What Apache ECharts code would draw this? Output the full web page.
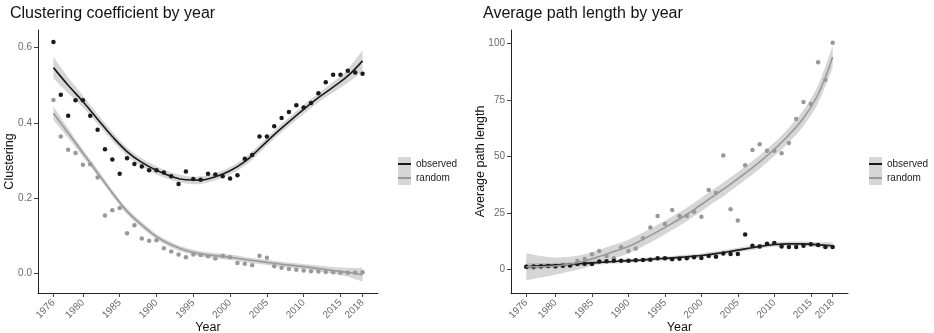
<!DOCTYPE html>
<html><head><meta charset="utf-8">
<script src="https://cdn.jsdelivr.net/npm/echarts@6/dist/echarts.min.js"></script>
<style>html,body{margin:0;padding:0;background:#fff}#c{width:934px;height:333px}</style>
</head><body><div id="c"></div>
<script>
// ---- data ----
const years = [1976,1977,1978,1979,1980,1981,1982,1983,1984,1985,1986,1987,1988,1989,1990,1991,1992,1993,1994,1995,1996,1997,1998,1999,2000,2001,2002,2003,2004,2005,2006,2007,2008,2009,2010,2011,2012,2013,2014,2015,2016,2017,2018];
const tickYears = [1976,1980,1985,1990,1995,2000,2005,2010,2015,2018];

const clusterObserved = [0.615,0.475,0.419,0.460,0.460,0.419,0.382,0.330,0.303,0.265,0.306,0.291,0.284,0.274,0.274,0.268,0.258,0.238,0.271,0.251,0.249,0.265,0.263,0.258,0.252,0.261,0.305,0.315,0.364,0.364,0.391,0.413,0.429,0.447,0.441,0.453,0.479,0.508,0.528,0.528,0.539,0.534,0.531];
const clusterRandom = [0.461,0.364,0.329,0.320,0.289,0.290,0.255,0.154,0.168,0.174,0.107,0.128,0.093,0.087,0.088,0.067,0.058,0.050,0.043,0.050,0.049,0.046,0.040,0.047,0.043,0.028,0.026,0.022,0.047,0.042,0.019,0.015,0.012,0.010,0.008,0.006,0.005,0.004,0.003,0.002,0.002,0.002,0.003];

const pathObserved = [1.3,1.4,1.5,1.6,1.6,1.7,1.8,2.5,2.6,2.5,3.6,3.7,3.9,3.9,4.0,4.2,4.3,4.4,5.0,5.1,4.6,4.8,5.0,5.5,5.2,6.0,5.7,7.2,6.9,6.9,15.6,10.6,10.3,11.5,11.8,10.3,10.0,10.0,10.6,11.2,10.9,10.0,10.0];
const pathRandom = [1.3,1.0,1.3,1.5,1.2,1.7,2.0,3.8,4.7,6.8,8.3,6.0,5.0,9.9,8.3,9.4,13.9,18.6,23.7,20.2,26.4,23.7,23.7,25.6,23.4,35.2,33.9,50.4,26.7,21.7,46.1,52.9,55.4,52.6,52.6,51.4,56.0,66.6,74.1,73.2,91.7,83.8,100.3];

// smoothed fits and half widths of their bands
const fitYears = [1976,1978,1980,1982,1984,1986,1988,1990,1992,1994,1996,1998,2000,2002,2004,2006,2008,2010,2012,2014,2016,2018];
const clusterObsFit = [0.547,0.500,0.457,0.410,0.364,0.324,0.295,0.274,0.258,0.249,0.248,0.257,0.273,0.297,0.332,0.369,0.403,0.436,0.467,0.495,0.525,0.565];
const clusterObsHw  = [0.028,0.021,0.016,0.013,0.012,0.011,0.011,0.011,0.010,0.010,0.010,0.010,0.010,0.011,0.011,0.011,0.011,0.012,0.012,0.014,0.018,0.028];
const clusterRndFit = [0.426,0.373,0.320,0.267,0.214,0.165,0.129,0.098,0.076,0.061,0.052,0.047,0.043,0.037,0.032,0.027,0.022,0.018,0.013,0.008,0.003,-0.004];
const clusterRndHw  = [0.018,0.013,0.010,0.009,0.008,0.008,0.008,0.007,0.007,0.007,0.007,0.007,0.007,0.007,0.007,0.007,0.007,0.007,0.008,0.009,0.012,0.018];
const pathObsFit = [1.3,1.7,2.1,2.4,2.8,3.2,3.6,4.0,4.3,4.8,5.2,5.7,6.3,7.1,8.1,9.2,10.3,11.1,11.4,11.4,11.0,10.6];
const pathObsHw  = [1.5,1.2,1.0,0.9,0.9,0.9,0.9,0.9,0.9,0.9,0.9,0.9,0.9,1.0,1.0,1.0,1.0,1.0,1.0,1.0,1.1,1.5];
const pathRndFit = [1.3,1.3,1.6,2.5,3.8,5.8,8.0,10.2,13.4,16.8,20.5,24.4,28.8,33.3,37.8,42.6,47.6,53.2,59.5,67.0,77.5,94.0];
const pathRndHw  = [6.0,4.8,3.8,3.2,3.0,3.0,3.0,3.0,3.0,3.0,3.0,3.0,3.0,3.0,3.0,3.0,3.0,3.0,3.2,3.5,4.0,4.8];

const seriesNames = ['observed','random'];

// ---- styling ----
const FONT = '"Liberation Sans", Arial, Helvetica, sans-serif';
const OBS = '#1a1a1a', RND = '#999999', BAND = 'rgba(153,153,153,0.4)';

function crPath(p){
  let s='';
  for(let i=0;i<p.length-1;i++){
    const p0=p[Math.max(i-1,0)],p1=p[i],p2=p[i+1],p3=p[Math.min(i+2,p.length-1)];
    const c1=[p1[0]+(p2[0]-p0[0])/6,p1[1]+(p2[1]-p0[1])/6];
    const c2=[p2[0]-(p3[0]-p1[0])/6,p2[1]-(p3[1]-p1[1])/6];
    s+='C'+c1[0]+','+c1[1]+' '+c2[0]+','+c2[1]+' '+p2[0]+','+p2[1];
  }
  return s;
}
function band(gi, fit, hw){
  return {
    type:'custom', xAxisIndex:gi, yAxisIndex:gi, silent:true,
    data:[[fitYears[0], fit[0]]],
    renderItem:function(params, api){
      const up = fitYears.map((y,i)=>api.coord([y, fit[i]+hw[i]]));
      const lo = fitYears.map((y,i)=>api.coord([y, fit[i]-hw[i]])).reverse();
      const d = 'M'+up[0][0]+','+up[0][1]+crPath(up)+'L'+lo[0][0]+','+lo[0][1]+crPath(lo)+'Z';
      return {type:'path', shape:{pathData:d}, style:{fill:BAND}};
    }
  };
}
function pts(gi, vals, color, name){
  return {type:'scatter', name:name, xAxisIndex:gi, yAxisIndex:gi, symbolSize:4.5,
    itemStyle:{color:color, opacity:1}, data:years.map((y,i)=>[y, vals[i]]), silent:true};
}
function fitLine(gi, fit, color, name){
  return {type:'line', name:name, xAxisIndex:gi, yAxisIndex:gi, smooth:0.4, symbol:'none',
    lineStyle:{color:color, width:1.6}, itemStyle:{color:color},
    data:fitYears.map((y,i)=>[y, fit[i]]), silent:true};
}
function xAx(gi){
  return {type:'value', gridIndex:gi, min:1973.9, max:2020.1,
    axisLine:{show:true, onZero:false, lineStyle:{color:'#222', width:1}},
    axisTick:{show:true, customValues:tickYears, length:4, lineStyle:{color:'#444'}},
    axisLabel:{customValues:tickYears, rotate:45, fontSize:10, color:'#6b6b6b', margin:8, fontFamily:FONT, formatter:v=>String(v)},
    splitLine:{show:false},
    name:'Year', nameLocation:'middle', nameGap:28, nameMoveOverlap:false,
    nameTextStyle:{fontSize:12.5, color:'#111', fontFamily:FONT, verticalAlign:'top'}};
}
function yAx(gi, min, max, ticks, fmt, name, gap){
  return {type:'value', gridIndex:gi, min:min, max:max,
    axisLine:{show:true, onZero:false, lineStyle:{color:'#222', width:1}},
    axisTick:{show:true, customValues:ticks, length:4, lineStyle:{color:'#444'}},
    axisLabel:{customValues:ticks, fontSize:10, color:'#6b6b6b', margin:6, fontFamily:FONT, formatter:fmt},
    splitLine:{show:false},
    name:name, nameLocation:'middle', nameGap:gap, nameRotate:90, nameMoveOverlap:false,
    nameTextStyle:{fontSize:12.5, color:'#111', fontFamily:FONT}};
}
function legend(left){
  return {left:left, top:157, padding:0, orient:'vertical', itemWidth:13, itemHeight:2, itemGap:0, icon:'rect',
    data:seriesNames, selectedMode:false,
    textStyle:{fontSize:10, lineHeight:14, color:'#222', fontFamily:FONT}};
}

const chart = echarts.init(document.getElementById('c'), null, {renderer:'canvas'});
chart.setOption({
  animation:false,
  backgroundColor:'#fff',
  textStyle:{fontFamily:FONT},
  title:[
    {text:'Clustering coefficient by year', left:10, top:6, padding:0, textStyle:{fontSize:16, fontWeight:'normal', color:'#111', fontFamily:FONT}},
    {text:'Average path length by year', left:483, top:6, padding:0, textStyle:{fontSize:16, fontWeight:'normal', color:'#111', fontFamily:FONT}}
  ],
  grid:[
    {left:38, top:30, width:340, height:263, containLabel:false, outerBoundsMode:'none'},
    {left:511, top:30, width:337, height:263, containLabel:false, outerBoundsMode:'none'}
  ],
  xAxis:[xAx(0), xAx(1)],
  yAxis:[
    yAx(0, -0.052, 0.647, [0,0.2,0.4,0.6], v=>v.toFixed(1), 'Clustering', 22),
    yAx(1, -10.3, 105.9, [0,25,50,75,100], v=>String(v), 'Average path length', 24)
  ],
  legend:[legend(398), legend(869)],
  graphic:[
    {type:'rect', left:398, top:157, z:0, shape:{width:13, height:28}, style:{fill:BAND}},
    {type:'rect', left:869, top:157, z:0, shape:{width:13, height:28}, style:{fill:BAND}}
  ],
  series:[
    band(0, clusterObsFit, clusterObsHw),
    band(0, clusterRndFit, clusterRndHw),
    band(1, pathObsFit, pathObsHw),
    band(1, pathRndFit, pathRndHw),
    pts(0, clusterRandom, RND, 'random points'),
    pts(0, clusterObserved, OBS, 'observed points'),
    pts(1, pathRandom, RND, 'random points'),
    pts(1, pathObserved, OBS, 'observed points'),
    fitLine(0, clusterObsFit, OBS, 'observed'),
    fitLine(0, clusterRndFit, RND, 'random'),
    fitLine(1, pathObsFit, OBS, 'observed'),
    fitLine(1, pathRndFit, RND, 'random')
  ]
});
</script>
</body></html>
